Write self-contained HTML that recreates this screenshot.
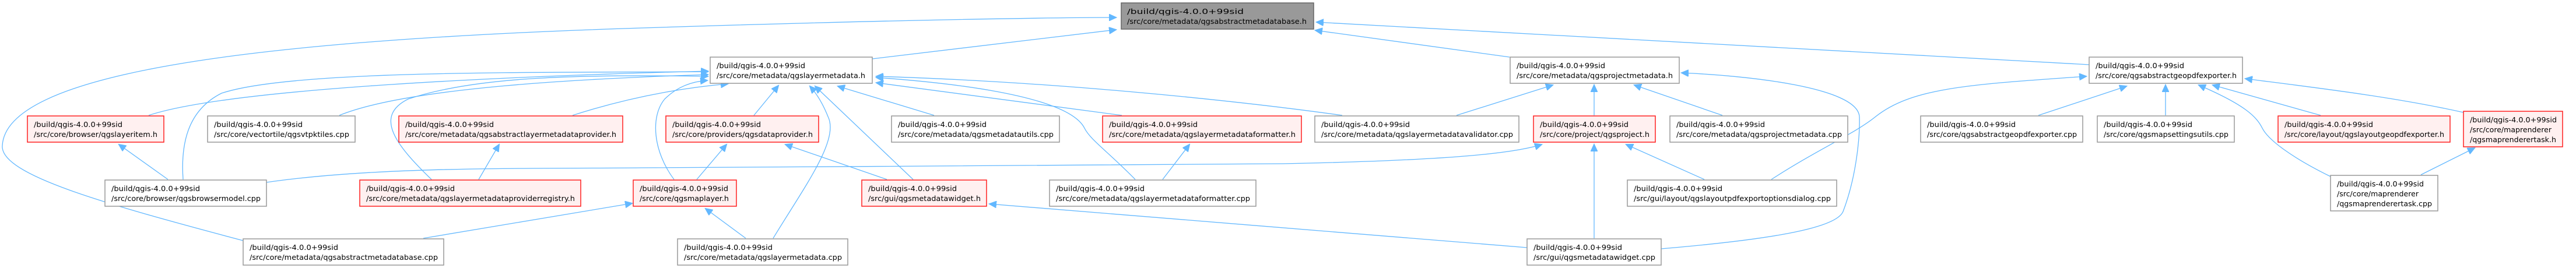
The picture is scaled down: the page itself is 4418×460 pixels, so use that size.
<!DOCTYPE html>
<html><head><meta charset="utf-8"><style>
html,body{margin:0;padding:0;background:#fff;}
svg{display:block;}
text{font-family:"DejaVu Sans","Liberation Sans",sans-serif;font-size:12px;fill:#000;}
.e{fill:none;stroke:#63b8ff;stroke-width:1.3;marker-end:url(#a);}
.n{fill:#fff;stroke:#999;stroke-width:1.5;}
.r{fill:#fff0f0;stroke:#ff2020;stroke-width:1.5;}
.g{fill:#999;stroke:#666;stroke-width:1.5;}
</style></head><body>
<svg width="4418" height="460" viewBox="0 0 4418 460" xmlns="http://www.w3.org/2000/svg">
<defs><marker id="a" markerUnits="userSpaceOnUse" markerWidth="14" markerHeight="12" refX="12" refY="6" orient="auto"><path d="M0,0 L13,6 L0,12 z" fill="#63b8ff" stroke="#63b8ff"/></marker></defs>

<!-- edges -->
<path class="e" d="M1496,101 L1914,51"/>
<path class="e" d="M2589,98 L2256,52"/>
<path class="e" d="M3583,111 L2258,38"/>
<path class="e" d="M417,413 C180,350 0,300 4,250 C10,130 400,70 1100,48 C1500,35 1800,30 1914,30"/>
<path class="e" d="M255,198 C400,150 900,130 1214,122"/>
<path class="e" d="M582,198 C700,150 1000,135 1214,128"/>
<path class="e" d="M982,198 C1100,160 1200,148 1248,144"/>
<path class="e" d="M314,308 C310,250 320,190 380,160 C500,120 900,125 1214,123"/>
<path class="e" d="M740,308 C680,250 640,200 700,170 C820,130 1000,128 1214,131"/>
<path class="e" d="M1293,198 L1335,147"/>
<path class="e" d="M1602,198 L1437,148"/>
<path class="e" d="M1924,198 L1503,142"/>
<path class="e" d="M2302,198 C2100,170 1800,140 1503,131"/>
<path class="e" d="M1156,308 C1120,260 1115,200 1140,170 C1160,150 1185,140 1213,138"/>
<path class="e" d="M1566,308 L1398,148"/>
<path class="e" d="M1326,409 C1380,320 1440,240 1420,200 C1410,175 1400,160 1389,148"/>
<path class="e" d="M1947,308 C1900,260 1870,240 1860,220 C1830,160 1600,140 1503,133"/>
<path class="e" d="M288,308 L204,248"/>
<path class="e" d="M821,308 L856,248"/>
<path class="e" d="M1195,308 L1246,248"/>
<path class="e" d="M1521,308 L1347,248"/>
<path class="e" d="M726,409 L1084,349"/>
<path class="e" d="M1279,409 L1210,358"/>
<path class="e" d="M1994,308 L2040,248"/>
<path class="e" d="M2619,425 L1697,350"/>
<path class="e" d="M2498,198 L2663,146"/>
<path class="e" d="M2734,198 L2734,146"/>
<path class="e" d="M2954,198 L2803,146"/>
<path class="e" d="M2849,427 C3050,410 3150,390 3161,363 C3185,300 3190,230 3189,200 C3185,150 3000,130 2884,125"/>
<path class="e" d="M457,313 C650,285 900,290 1100,288 C1500,285 2000,285 2200,281 C2500,275 2600,262 2644,248"/>
<path class="e" d="M2923,308 L2789,248"/>
<path class="e" d="M2734,409 L2734,248"/>
<path class="e" d="M3038,308 C3120,255 3180,230 3217,200 C3280,150 3380,145 3578,131"/>
<path class="e" d="M3496,198 L3647,148"/>
<path class="e" d="M3714,198 L3714,146"/>
<path class="e" d="M3980,198 L3795,146"/>
<path class="e" d="M4225,193 C4100,165 3950,148 3851,135"/>
<path class="e" d="M3997,303 C3930,270 3890,240 3880,220 C3870,200 3850,180 3771,146"/>
<path class="e" d="M4152,300 L4244,254"/>

<!-- nodes -->
<rect class="g" x="1923" y="5" width="330" height="45"/>
<text x="1933" y="24" textLength="200" lengthAdjust="spacingAndGlyphs">/build/qgis-4.0.0+99sid</text>
<text x="1933" y="41" textLength="308" lengthAdjust="spacingAndGlyphs">/src/core/metadata/qgsabstractmetadatabase.h</text>

<rect class="n" x="1218" y="98" width="278" height="45"/>
<text x="1229" y="117" textLength="152" lengthAdjust="spacingAndGlyphs">/build/qgis-4.0.0+99sid</text>
<text x="1229" y="134" textLength="255" lengthAdjust="spacingAndGlyphs">/src/core/metadata/qgslayermetadata.h</text>

<rect class="n" x="2590" y="98" width="290" height="45"/>
<text x="2601" y="117" textLength="152" lengthAdjust="spacingAndGlyphs">/build/qgis-4.0.0+99sid</text>
<text x="2601" y="134" textLength="268" lengthAdjust="spacingAndGlyphs">/src/core/metadata/qgsprojectmetadata.h</text>

<rect class="n" x="3583" y="98" width="263" height="45"/>
<text x="3594" y="117" textLength="152" lengthAdjust="spacingAndGlyphs">/build/qgis-4.0.0+99sid</text>
<text x="3594" y="134" textLength="242" lengthAdjust="spacingAndGlyphs">/src/core/qgsabstractgeopdfexporter.h</text>

<!-- row 2 -->
<rect class="r" x="47" y="199" width="234" height="45"/>
<text x="58" y="218" textLength="152" lengthAdjust="spacingAndGlyphs">/build/qgis-4.0.0+99sid</text>
<text x="58" y="235" textLength="212" lengthAdjust="spacingAndGlyphs">/src/core/browser/qgslayeritem.h</text>

<rect class="n" x="356" y="199" width="253" height="45"/>
<text x="367" y="218" textLength="152" lengthAdjust="spacingAndGlyphs">/build/qgis-4.0.0+99sid</text>
<text x="367" y="235" textLength="232" lengthAdjust="spacingAndGlyphs">/src/core/vectortile/qgsvtpktiles.cpp</text>

<rect class="r" x="684" y="199" width="384" height="45"/>
<text x="695" y="218" textLength="152" lengthAdjust="spacingAndGlyphs">/build/qgis-4.0.0+99sid</text>
<text x="695" y="235" textLength="362" lengthAdjust="spacingAndGlyphs">/src/core/metadata/qgsabstractlayermetadataprovider.h</text>

<rect class="r" x="1142" y="199" width="262" height="45"/>
<text x="1153" y="218" textLength="152" lengthAdjust="spacingAndGlyphs">/build/qgis-4.0.0+99sid</text>
<text x="1153" y="235" textLength="241" lengthAdjust="spacingAndGlyphs">/src/core/providers/qgsdataprovider.h</text>

<rect class="n" x="1529" y="199" width="288" height="45"/>
<text x="1540" y="218" textLength="152" lengthAdjust="spacingAndGlyphs">/build/qgis-4.0.0+99sid</text>
<text x="1540" y="235" textLength="267" lengthAdjust="spacingAndGlyphs">/src/core/metadata/qgsmetadatautils.cpp</text>

<rect class="r" x="1891" y="199" width="341" height="45"/>
<text x="1902" y="218" textLength="152" lengthAdjust="spacingAndGlyphs">/build/qgis-4.0.0+99sid</text>
<text x="1902" y="235" textLength="320" lengthAdjust="spacingAndGlyphs">/src/core/metadata/qgslayermetadataformatter.h</text>

<rect class="n" x="2255" y="199" width="350" height="45"/>
<text x="2266" y="218" textLength="152" lengthAdjust="spacingAndGlyphs">/build/qgis-4.0.0+99sid</text>
<text x="2266" y="235" textLength="329" lengthAdjust="spacingAndGlyphs">/src/core/metadata/qgslayermetadatavalidator.cpp</text>

<rect class="r" x="2630" y="199" width="209" height="45"/>
<text x="2641" y="218" textLength="152" lengthAdjust="spacingAndGlyphs">/build/qgis-4.0.0+99sid</text>
<text x="2641" y="235" textLength="188" lengthAdjust="spacingAndGlyphs">/src/core/project/qgsproject.h</text>

<rect class="n" x="2864" y="199" width="305" height="45"/>
<text x="2875" y="218" textLength="152" lengthAdjust="spacingAndGlyphs">/build/qgis-4.0.0+99sid</text>
<text x="2875" y="235" textLength="284" lengthAdjust="spacingAndGlyphs">/src/core/metadata/qgsprojectmetadata.cpp</text>

<rect class="n" x="3294" y="199" width="278" height="45"/>
<text x="3305" y="218" textLength="152" lengthAdjust="spacingAndGlyphs">/build/qgis-4.0.0+99sid</text>
<text x="3305" y="235" textLength="257" lengthAdjust="spacingAndGlyphs">/src/core/qgsabstractgeopdfexporter.cpp</text>

<rect class="n" x="3597" y="199" width="235" height="45"/>
<text x="3608" y="218" textLength="152" lengthAdjust="spacingAndGlyphs">/build/qgis-4.0.0+99sid</text>
<text x="3608" y="235" textLength="214" lengthAdjust="spacingAndGlyphs">/src/core/qgsmapsettingsutils.cpp</text>

<rect class="r" x="3907" y="199" width="295" height="45"/>
<text x="3918" y="218" textLength="152" lengthAdjust="spacingAndGlyphs">/build/qgis-4.0.0+99sid</text>
<text x="3918" y="235" textLength="274" lengthAdjust="spacingAndGlyphs">/src/core/layout/qgslayoutgeopdfexporter.h</text>

<rect class="r" x="4225" y="191" width="170" height="61"/>
<text x="4236" y="210" textLength="149" lengthAdjust="spacingAndGlyphs">/build/qgis-4.0.0+99sid</text>
<text x="4236" y="227" textLength="140" lengthAdjust="spacingAndGlyphs">/src/core/maprenderer</text>
<text x="4236" y="244" textLength="148" lengthAdjust="spacingAndGlyphs">/qgsmaprenderertask.h</text>

<!-- row 3 -->
<rect class="n" x="180" y="309" width="277" height="45"/>
<text x="191" y="328" textLength="152" lengthAdjust="spacingAndGlyphs">/build/qgis-4.0.0+99sid</text>
<text x="191" y="345" textLength="256" lengthAdjust="spacingAndGlyphs">/src/core/browser/qgsbrowsermodel.cpp</text>

<rect class="r" x="617" y="309" width="379" height="45"/>
<text x="628" y="328" textLength="152" lengthAdjust="spacingAndGlyphs">/build/qgis-4.0.0+99sid</text>
<text x="628" y="345" textLength="358" lengthAdjust="spacingAndGlyphs">/src/core/metadata/qgslayermetadataproviderregistry.h</text>

<rect class="r" x="1086" y="309" width="177" height="45"/>
<text x="1097" y="328" textLength="152" lengthAdjust="spacingAndGlyphs">/build/qgis-4.0.0+99sid</text>
<text x="1097" y="345" textLength="153" lengthAdjust="spacingAndGlyphs">/src/core/qgsmaplayer.h</text>

<rect class="r" x="1478" y="309" width="214" height="45"/>
<text x="1489" y="328" textLength="152" lengthAdjust="spacingAndGlyphs">/build/qgis-4.0.0+99sid</text>
<text x="1489" y="345" textLength="193" lengthAdjust="spacingAndGlyphs">/src/gui/qgsmetadatawidget.h</text>

<rect class="n" x="1800" y="309" width="354" height="45"/>
<text x="1811" y="328" textLength="152" lengthAdjust="spacingAndGlyphs">/build/qgis-4.0.0+99sid</text>
<text x="1811" y="345" textLength="333" lengthAdjust="spacingAndGlyphs">/src/core/metadata/qgslayermetadataformatter.cpp</text>

<rect class="n" x="2791" y="309" width="359" height="45"/>
<text x="2802" y="328" textLength="152" lengthAdjust="spacingAndGlyphs">/build/qgis-4.0.0+99sid</text>
<text x="2802" y="345" textLength="338" lengthAdjust="spacingAndGlyphs">/src/gui/layout/qgslayoutpdfexportoptionsdialog.cpp</text>

<rect class="n" x="3997" y="301" width="184" height="61"/>
<text x="4008" y="320" textLength="149" lengthAdjust="spacingAndGlyphs">/build/qgis-4.0.0+99sid</text>
<text x="4008" y="337" textLength="140" lengthAdjust="spacingAndGlyphs">/src/core/maprenderer</text>
<text x="4008" y="354" textLength="163" lengthAdjust="spacingAndGlyphs">/qgsmaprenderertask.cpp</text>

<!-- row 4 -->
<rect class="n" x="417" y="410" width="344" height="45"/>
<text x="428" y="429" textLength="152" lengthAdjust="spacingAndGlyphs">/build/qgis-4.0.0+99sid</text>
<text x="428" y="446" textLength="323" lengthAdjust="spacingAndGlyphs">/src/core/metadata/qgsabstractmetadatabase.cpp</text>

<rect class="n" x="1162" y="410" width="292" height="45"/>
<text x="1173" y="429" textLength="152" lengthAdjust="spacingAndGlyphs">/build/qgis-4.0.0+99sid</text>
<text x="1173" y="446" textLength="271" lengthAdjust="spacingAndGlyphs">/src/core/metadata/qgslayermetadata.cpp</text>

<rect class="n" x="2619" y="410" width="230" height="45"/>
<text x="2630" y="429" textLength="152" lengthAdjust="spacingAndGlyphs">/build/qgis-4.0.0+99sid</text>
<text x="2630" y="446" textLength="209" lengthAdjust="spacingAndGlyphs">/src/gui/qgsmetadatawidget.cpp</text>
</svg>
</body></html>
